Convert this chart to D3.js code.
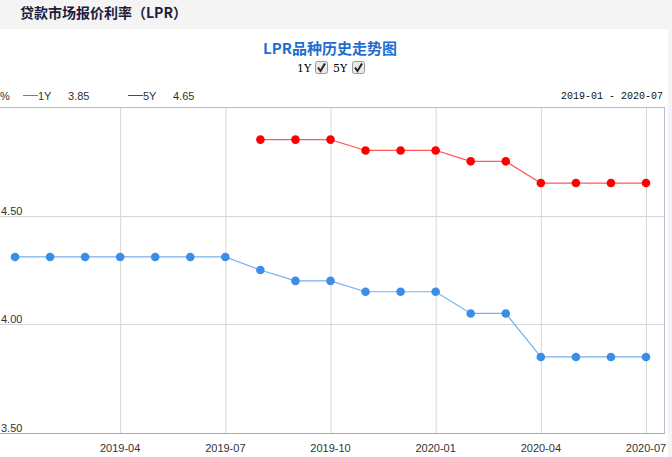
<!DOCTYPE html>
<html><head><meta charset="utf-8">
<script src="https://cdn.jsdelivr.net/npm/d3@7/dist/d3.min.js"></script>
<style>
html,body{margin:0;padding:0;background:#fff;overflow:hidden;}
svg{display:block;}
</style></head>
<body>
<svg id="chart" width="672" height="457"></svg>
<script>
const months = ["2019-01","2019-02","2019-03","2019-04","2019-05","2019-06","2019-07","2019-08","2019-09","2019-10","2019-11","2019-12","2020-01","2020-02","2020-03","2020-04","2020-05","2020-06","2020-07"];
const lpr1Y = [4.31,4.31,4.31,4.31,4.31,4.31,4.31,4.25,4.20,4.20,4.15,4.15,4.15,4.05,4.05,3.85,3.85,3.85,3.85];
const lpr5Y = [null,null,null,null,null,null,null,4.85,4.85,4.85,4.80,4.80,4.80,4.75,4.75,4.65,4.65,4.65,4.65];
const xTicks = ["2019-04","2019-07","2019-10","2020-01","2020-04","2020-07"];
const yTicks = [3.5,4.0,4.5];
const seriesNames = ["1Y","5Y"];
const latest = ["3.85","4.65"];
const pageTitle = "贷款市场报价利率（LPR）";
const chartTitle = "LPR品种历史走势图";
const rangeLabel = "2019-01 - 2020-07";

(function(){
const svg = d3.select("#chart");
const W = 672, H = 457;
const pL = 0, pR = 664, pT = 107, pB = 433;

// header bar
svg.append("rect").attr("x",0).attr("y",0).attr("width",W).attr("height",29).attr("fill","#f4f4f4");
svg.append("rect").attr("x",668).attr("y",29).attr("width",4).attr("height",H-29).attr("fill","#f4f4f4");
svg.append("text").attr("x",20).attr("y",18).text(pageTitle)
  .attr("font-family","'Noto Sans CJK SC', sans-serif").attr("font-weight","bold").attr("font-size",14).attr("fill","#1c1c3c");

// chart title
svg.append("text").attr("x",330).attr("y",54).attr("text-anchor","middle").text(chartTitle)
  .attr("font-family","'Noto Sans CJK SC', sans-serif").attr("font-weight","bold").attr("font-size",15).attr("fill","#1f6dcc");

// checkboxes
const cbX = [{t:"1Y",x:297,bx:315},{t:"5Y",x:333,bx:352}];
cbX.forEach(c=>{
  svg.append("text").attr("x",c.x).attr("y",72).text(c.t)
    .attr("font-family","'DejaVu Serif', serif").attr("font-size",11).attr("fill","#000");
  svg.append("rect").attr("x",c.bx+0.5).attr("y",61.5).attr("width",12).attr("height",12).attr("rx",2)
    .attr("fill","#e8e8e8").attr("stroke","#9a9a9a");
  svg.append("path").attr("d",`M${c.bx+3},${67.5} L${c.bx+5.5},${71} L${c.bx+10},${63.5}`)
    .attr("fill","none").attr("stroke","#222").attr("stroke-width",2);
});

// scales
const x = d3.scalePoint().domain(months).range([15,646]);
const y = d3.scaleLinear().domain([3.5,5.0]).range([pB,pT]);

// legend
const font = "Arial, 'Liberation Sans', sans-serif";
svg.append("text").attr("x",0).attr("y",100).text("%").attr("font-family",font).attr("font-size",11).attr("fill","#333");
const colors = ["#3a8ee6","#ff0000"];
const lineColors = ["#78aef0","#ff5a5a"];
const legX = [23,128];
seriesNames.forEach((n,i)=>{
  svg.append("line").attr("x1",legX[i]).attr("x2",legX[i]+15).attr("y1",95.5).attr("y2",95.5).attr("stroke",colors[i]).attr("stroke-width",1);
  svg.append("text").attr("x",legX[i]+15).attr("y",100).text(n).attr("font-family",font).attr("font-size",11).attr("fill","#333");
  svg.append("text").attr("x",legX[i]+45).attr("y",100).text(latest[i]).attr("font-family",font).attr("font-size",11).attr("fill","#333");
});
svg.append("text").attr("x",663).attr("y",99).attr("text-anchor","end").text(rangeLabel)
  .attr("font-family","'Liberation Mono', monospace").attr("font-size",10).attr("fill","#111");

// grid
svg.append("g").selectAll("line").data(xTicks).join("line")
  .attr("x1",d=>x(d)+0.5).attr("x2",d=>x(d)+0.5).attr("y1",pT).attr("y2",pB).attr("stroke","#d6d6d6");
svg.append("g").selectAll("line").data(yTicks.filter(v=>v>3.5)).join("line")
  .attr("x1",pL).attr("x2",pR).attr("y1",d=>Math.round(y(d))+0.5).attr("y2",d=>Math.round(y(d))+0.5).attr("stroke","#d6d6d6");
// frame
svg.append("line").attr("x1",pL).attr("x2",pR).attr("y1",pT+0.5).attr("y2",pT+0.5).attr("stroke","#b8bfcc");
svg.append("line").attr("x1",pR+0.5).attr("x2",pR+0.5).attr("y1",pT).attr("y2",pB).attr("stroke","#b8bfcc");
svg.append("line").attr("x1",pL).attr("x2",pR+1).attr("y1",pB+0.5).attr("y2",pB+0.5).attr("stroke","#a2aabb");

// y labels
svg.append("g").selectAll("text").data(yTicks).join("text")
  .attr("x",1).attr("y",d=>Math.round(y(d))-1.5).text(d=>d.toFixed(2))
  .attr("font-family",font).attr("font-size",11).attr("fill","#333");
// x labels
svg.append("g").selectAll("text").data(xTicks).join("text")
  .attr("x",d=>x(d)).attr("y",452).attr("text-anchor","middle").text(d=>d)
  .attr("font-family",font).attr("font-size",11).attr("fill","#333");

// series
[lpr1Y,lpr5Y].forEach((vals,i)=>{
  const pts = months.map((m,j)=>({m,v:vals[j]})).filter(p=>p.v!=null);
  svg.append("path").datum(pts)
    .attr("d",d3.line().x(p=>x(p.m)).y(p=>y(p.v)))
    .attr("fill","none").attr("stroke",lineColors[i]).attr("stroke-width",1.2);
  svg.append("g").selectAll("circle").data(pts).join("circle")
    .attr("cx",p=>x(p.m)).attr("cy",p=>y(p.v)).attr("r",4.3).attr("fill",colors[i]);
});
})();
</script>
</body></html>
